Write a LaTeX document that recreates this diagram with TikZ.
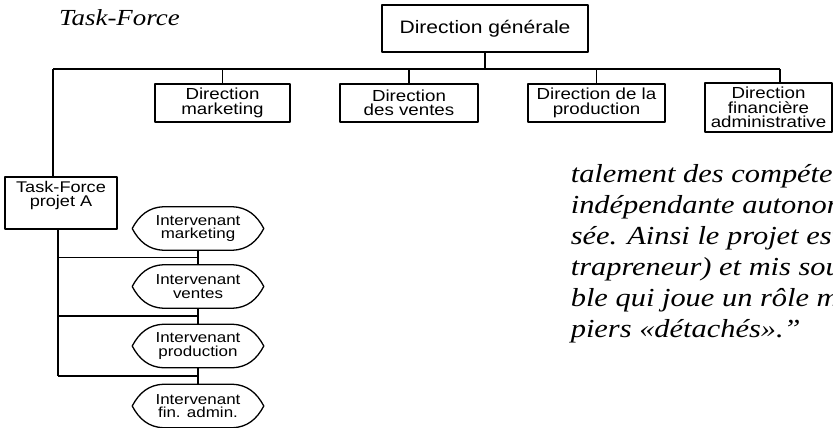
\documentclass[tikz,border=0pt]{standalone}
\usepackage{fontspec}
\setmainfont{Liberation Sans}[FakeStretch=1.17]
\newfontfamily\quotefont{Liberation Serif}[FakeStretch=1.17]
\usetikzlibrary{calc}

\tikzset{
  dirbox/.style={rectangle, draw, fill=white, align=center, inner sep=0pt, font=\fontsize{16}{14.5}\selectfont},
  interv/.style={rectangle, inner sep=0pt, minimum width=130pt, minimum height=42pt, align=center, font=\fontsize{14.5}{13.5}\selectfont},
}

\begin{document}
\begin{tikzpicture}[x=1pt, y=1pt, line width=1.6pt, line join=round]

    \useasboundingbox (0,0) rectangle (833,-428);

    % Title and quoted text
    \node[anchor=base west, font=\quotefont\itshape\fontsize{23}{27}\selectfont] (title) at (55,-26) {Task-Force};
    \node[anchor=base west, align=left, inner sep=0pt, font=\quotefont\itshape\fontsize{26}{31}\selectfont] (quote) at (570,-337)
        {talement des compéte\\indépendante autonom\\sée. Ainsi le projet est\\trapreneur) et mis sou\\ble qui joue un rôle m\\piers «détachés».”};

    % Directions
    \node[dirbox, minimum width=206pt, minimum height=47pt, font=\fontsize{18}{17}\selectfont] (gen) at (485,-28.5) {Direction générale};
    \node[dirbox, minimum width=135pt, minimum height=38pt] (mkt) at (222.5,-103) {Direction\\marketing};
    \node[dirbox, minimum width=138pt, minimum height=38pt] (vte) at (409,-103) {Direction\\des ventes};
    \node[dirbox, minimum width=137pt, minimum height=38pt] (prod) at (596.5,-103) {Direction de la\\production};
    \node[dirbox, minimum width=127pt, minimum height=49pt] (fin) at (768.5,-107.5) {Direction\\financière\\administrative};

    % Task-Force and its members
    \node[dirbox, minimum width=112pt, minimum height=52pt, font=\fontsize{15.5}{14}\selectfont] (tf) at (61,-203) {Task-Force\\projet A\\[5pt]};
    \node[interv] (imkt) at (198,-228.5) {Intervenant\\marketing};
    \node[interv] (ivte) at (198,-286.5) {Intervenant\\ventes};
    \node[interv] (iprod) at (198,-346) {Intervenant\\production};
    \node[interv] (ifin) at (198,-406) {Intervenant\\fin. admin.};

    % Pointed ovals round the members
    \foreach \n in {imkt,ivte,iprod,ifin}
        \draw[line width=1.3pt] (\n.west) to[out=62,in=182] ($(\n.north west)!0.24!(\n.north east)$)
              -- ($(\n.north west)!0.76!(\n.north east)$) to[out=-2,in=118] (\n.east)
              to[out=-118,in=2] ($(\n.south west)!0.76!(\n.south east)$)
              -- ($(\n.south west)!0.24!(\n.south east)$) to[out=178,in=-62] (\n.west);

    % Hierarchy lines
    \coordinate (busL) at (53,-69);
    \coordinate (busR) at (780,-69);
    \draw (gen) -- (gen |- busL);
    \draw (busL) -- (busR);
    \draw (busR) -- (busR |- fin.north);
    \foreach \b in {mkt,vte,prod}
        \draw (\b) -- (\b |- busL);
    \draw (busL) -- (busL |- tf.north);

    % Links inside the task force
    \coordinate (spine) at (58,0);
    \coordinate (j1) at ($(imkt.south)!0.5!(ivte.north)$);
    \coordinate (j2) at ($(ivte.south)!0.5!(iprod.north)$);
    \coordinate (j3) at ($(iprod.south)!0.5!(ifin.north)$);
    \draw (imkt) -- (ivte);
    \draw (ivte) -- (iprod);
    \draw (iprod) -- (ifin);
    \draw (spine |- tf.south) -- (spine |- j3);
    \foreach \j in {j1,j2,j3}
        \draw (spine |- \j) -- (\j);
\end{tikzpicture}
\end{document}
